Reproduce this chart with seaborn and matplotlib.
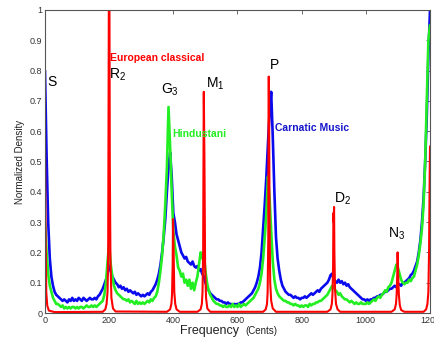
import numpy as np
import matplotlib
matplotlib.use("Agg")
import matplotlib.pyplot as plt
import seaborn as sns

# pitch density data (cents 0..1200)

# Carnatic + Hindustani sampled every 5 cents
cents = np.arange(0, 1201, 5)

carnatic = [
    0.80, 0.52, 0.30, 0.18, 0.12, 0.09, 0.07, 0.06, 0.055, 0.05,
    0.045, 0.04, 0.045, 0.04, 0.035, 0.045, 0.04, 0.05, 0.04, 0.045,
    0.04, 0.05, 0.045, 0.04, 0.05, 0.045, 0.04, 0.045, 0.05, 0.045,
    0.045, 0.05, 0.045, 0.055, 0.06, 0.07, 0.08, 0.095, 0.11, 0.13,
    0.16, 0.14, 0.12, 0.11, 0.10, 0.095, 0.085, 0.09, 0.08, 0.085,
    0.075, 0.08, 0.07, 0.075, 0.07, 0.065, 0.07, 0.06, 0.065, 0.06,
    0.055, 0.06, 0.055, 0.06, 0.065, 0.06, 0.07, 0.075, 0.085, 0.095,
    0.11, 0.13, 0.16, 0.20, 0.25, 0.31, 0.40, 0.48, 0.53, 0.45,
    0.33, 0.30, 0.26, 0.24, 0.22, 0.20, 0.19, 0.18, 0.185, 0.17,
    0.165, 0.16, 0.17, 0.155, 0.15, 0.155, 0.14, 0.145, 0.13, 0.12,
    0.10, 0.085, 0.075, 0.065, 0.06, 0.055, 0.05, 0.045, 0.045, 0.04,
    0.04, 0.035, 0.035, 0.03, 0.035, 0.03, 0.03, 0.025, 0.03, 0.028,
    0.03, 0.03, 0.035, 0.035, 0.04, 0.045, 0.05, 0.055, 0.06, 0.065,
    0.075, 0.085, 0.10, 0.12, 0.15, 0.20, 0.28, 0.36, 0.45, 0.56,
    0.66, 0.73, 0.58, 0.40, 0.25, 0.18, 0.14, 0.11, 0.09, 0.08,
    0.07, 0.065, 0.06, 0.06, 0.055, 0.05, 0.055, 0.05, 0.05, 0.045,
    0.05, 0.05, 0.055, 0.05, 0.055, 0.06, 0.065, 0.06, 0.065, 0.07,
    0.075, 0.07, 0.08, 0.085, 0.09, 0.095, 0.10, 0.11, 0.125, 0.13,
    0.11, 0.105, 0.10, 0.11, 0.10, 0.105, 0.095, 0.10, 0.09, 0.095,
    0.085, 0.08, 0.075, 0.07, 0.065, 0.06, 0.055, 0.05, 0.045, 0.045,
    0.04, 0.045, 0.04, 0.045, 0.045, 0.05, 0.05, 0.055, 0.055, 0.06,
    0.06, 0.065, 0.07, 0.07, 0.075, 0.08, 0.08, 0.085, 0.09, 0.085,
    0.09, 0.095, 0.09, 0.10, 0.10, 0.105, 0.11, 0.115, 0.125, 0.13,
    0.14, 0.155, 0.17, 0.20, 0.24, 0.30, 0.38, 0.50, 0.65, 0.85,
    1.0,
]

hindustani = [
    0.30, 0.20, 0.13, 0.09, 0.07, 0.05, 0.04, 0.03, 0.03, 0.025,
    0.02, 0.025, 0.015, 0.02, 0.015, 0.02, 0.015, 0.02, 0.02, 0.015,
    0.02, 0.015, 0.02, 0.02, 0.015, 0.02, 0.025, 0.02, 0.02, 0.025,
    0.02, 0.025, 0.02, 0.025, 0.03, 0.035, 0.04, 0.06, 0.10, 0.17,
    0.23, 0.16, 0.12, 0.09, 0.075, 0.065, 0.06, 0.055, 0.05, 0.045,
    0.045, 0.04, 0.045, 0.035, 0.04, 0.035, 0.03, 0.04, 0.03, 0.035,
    0.03, 0.035, 0.03, 0.035, 0.04, 0.035, 0.045, 0.04, 0.05, 0.055,
    0.07, 0.10, 0.14, 0.19, 0.26, 0.36, 0.48, 0.68, 0.55, 0.40,
    0.27, 0.22, 0.19, 0.15, 0.14, 0.12, 0.13, 0.10, 0.11, 0.09,
    0.11, 0.08, 0.10, 0.075, 0.10, 0.12, 0.16, 0.20, 0.18, 0.20,
    0.14, 0.10, 0.075, 0.06, 0.05, 0.04, 0.035, 0.03, 0.03, 0.025,
    0.025, 0.02, 0.025, 0.02, 0.02, 0.025, 0.02, 0.03, 0.02, 0.025,
    0.02, 0.03, 0.02, 0.025, 0.03, 0.025, 0.03, 0.035, 0.04, 0.045,
    0.05, 0.06, 0.07, 0.08, 0.10, 0.13, 0.18, 0.25, 0.33, 0.45,
    0.38, 0.27, 0.17, 0.11, 0.08, 0.065, 0.055, 0.05, 0.045, 0.04,
    0.04, 0.035, 0.035, 0.03, 0.03, 0.025, 0.03, 0.025, 0.025, 0.02,
    0.025, 0.02, 0.025, 0.025, 0.02, 0.03, 0.025, 0.03, 0.03, 0.035,
    0.035, 0.04, 0.04, 0.045, 0.05, 0.055, 0.06, 0.07, 0.08, 0.09,
    0.085, 0.075, 0.07, 0.06, 0.065, 0.055, 0.05, 0.045, 0.045, 0.04,
    0.035, 0.04, 0.035, 0.03, 0.035, 0.03, 0.03, 0.035, 0.03, 0.03,
    0.03, 0.035, 0.03, 0.035, 0.04, 0.045, 0.04, 0.05, 0.055, 0.05,
    0.06, 0.065, 0.075, 0.07, 0.085, 0.09, 0.10, 0.12, 0.14, 0.16,
    0.15, 0.13, 0.11, 0.10, 0.095, 0.10, 0.10, 0.11, 0.105, 0.115,
    0.12, 0.14, 0.16, 0.19, 0.23, 0.28, 0.36, 0.50, 0.70, 0.90,
    0.95,
]

# European classical - narrow spikes, sampled unevenly
european_x = [0, 2, 4, 7, 12, 30,
              180, 188, 192, 195, 197, 198, 199, 201, 202, 204, 207, 212, 220,
              380, 390, 394, 396, 398, 399, 401, 403, 406, 410, 420,
              475, 485, 489, 491, 493, 494, 495, 497, 499, 502, 506, 515,
              680, 688, 692, 694, 696, 697, 698, 700, 702, 705, 710, 720,
              880, 890, 894, 896, 898, 899, 900, 901, 902, 904, 907, 912, 920,
              1080, 1090, 1094, 1096, 1098, 1099, 1101, 1103, 1106, 1110, 1120,
              1180, 1188, 1192, 1195, 1197, 1199, 1200]
european_y = [0.55, 0.25, 0.07, 0.025, 0.008, 0.003,
              0.004, 0.012, 0.03, 0.07, 0.2, 0.6, 1.0, 1.0, 0.5, 0.18, 0.05, 0.015, 0.005,
              0.004, 0.012, 0.03, 0.06, 0.16, 0.31, 0.2, 0.07, 0.03, 0.012, 0.004,
              0.004, 0.012, 0.03, 0.07, 0.2, 0.5, 0.73, 0.5, 0.16, 0.05, 0.015, 0.004,
              0.004, 0.012, 0.03, 0.07, 0.25, 0.78, 0.78, 0.3, 0.1, 0.04, 0.015, 0.004,
              0.004, 0.012, 0.03, 0.06, 0.15, 0.33, 0.3, 0.35, 0.2, 0.08, 0.03, 0.012, 0.004,
              0.004, 0.012, 0.03, 0.06, 0.13, 0.2, 0.12, 0.06, 0.025, 0.01, 0.004,
              0.004, 0.012, 0.03, 0.07, 0.2, 0.45, 0.55]

# note labels: (text, cents, density)
swara_txt = ["S", "R$_2$", "G$_3$", "M$_1$", "P", "D$_2$", "N$_3$"]
swara_x = [8, 200, 362, 502, 702, 900, 1070]
swara_y = [0.74, 0.76, 0.71, 0.73, 0.795, 0.35, 0.235]

sns.set_style("white")
plt.rcParams["font.family"] = ["Liberation Sans", "DejaVu Sans"]
plt.rcParams["mathtext.fontset"] = "custom"
plt.rcParams["mathtext.rm"] = "Liberation Sans"
plt.rcParams["mathtext.it"] = "Liberation Sans"

fig = plt.figure(figsize=(4.35, 3.41), dpi=100)
ax = fig.add_axes([0.1034, 0.0821, 0.8851, 0.8886])

sns.lineplot(x=cents, y=carnatic, color="#0a0aee", lw=1.9, ax=ax)
sns.lineplot(x=cents, y=hindustani, color="#22ee22", lw=1.9, ax=ax)
sns.lineplot(x=european_x, y=european_y, color="#ff0000", lw=1.5, ax=ax)

ax.set_xlim(0, 1200)
ax.set_ylim(0, 1)
ax.set_xticks(np.arange(0, 1201, 200))
ax.set_yticks(np.arange(0, 1.01, 0.1))
ax.set_yticklabels(["0", "0.1", "0.2", "0.3", "0.4", "0.5", "0.6", "0.7", "0.8", "0.9", "1"])
ax.tick_params(direction="in", length=3, width=0.6, top=True, right=True,
               labelsize=6.5, labelcolor="#333333", color="#555555", pad=2)
for s in ax.spines.values():
    s.set_color("#555555")
    s.set_linewidth(0.8)

ax.set_ylabel("Normalized Density", fontsize=7, color="#222222", labelpad=3)
ax.text(0.505, -0.038, "Frequency", transform=ax.transAxes, ha="right", va="top",
        fontsize=9, color="#222222")
ax.text(0.52, -0.044, "(Cents)", transform=ax.transAxes, ha="left", va="top",
        fontsize=7, color="#222222")

for t, x, y in zip(swara_txt, swara_x, swara_y):
    ax.text(x, y, t, fontsize=10, color="black", ha="left", va="bottom")

ax.text(203, 0.84, "European classical", color="#ff0000", fontsize=7.5,
        fontweight="bold", ha="left", va="center")
ax.text(398, 0.59, "Hindustani", color="#22ee22", fontsize=7.5,
        fontweight="bold", ha="left", va="center")
ax.text(716, 0.61, "Carnatic Music", color="#1515cc", fontsize=7.5,
        fontweight="bold", ha="left", va="center")

fig.savefig("out.png", dpi=100)
